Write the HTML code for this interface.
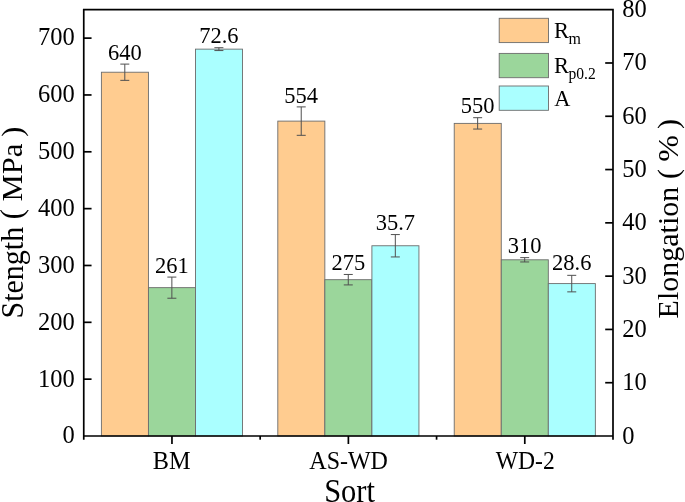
<!DOCTYPE html>
<html><head><meta charset="utf-8"><title>Chart</title>
<style>html,body{margin:0;padding:0;background:#fff;}body{width:685px;height:502px;overflow:hidden;font-family:"Liberation Serif",serif;}svg{display:block;will-change:transform;}</style>
</head><body>
<svg width="685" height="502" viewBox="0 0 685 502" font-family="Liberation Serif, serif" fill="#000">
<rect width="685" height="502" fill="#fff"/>
<rect x="101.39" y="72.22" width="47.04" height="363.78" fill="#FFCC90" stroke="#6c6c6c" stroke-width="0.9"/>
<rect x="148.44" y="287.65" width="47.04" height="148.35" fill="#9BD69B" stroke="#6c6c6c" stroke-width="0.9"/>
<rect x="195.48" y="49.13" width="47.04" height="386.87" fill="#AAFFFF" stroke="#6c6c6c" stroke-width="0.9"/>
<path d="M124.81 64.10V80.35M120.31 64.10H129.31M120.31 80.35H129.31" stroke="#505050" stroke-width="1.0" fill="none"/>
<text transform="translate(124.81 60.00) scale(1.0 1.03)" font-size="22.5" text-anchor="middle">640</text>
<path d="M171.86 277.08V298.22M167.36 277.08H176.36M167.36 298.22H176.36" stroke="#505050" stroke-width="1.0" fill="none"/>
<text transform="translate(171.86 273.00) scale(1.0 1.03)" font-size="22.5" text-anchor="middle">261</text>
<path d="M218.90 47.69V50.57M214.40 47.69H223.40M214.40 50.57H223.40" stroke="#505050" stroke-width="1.0" fill="none"/>
<text transform="translate(218.90 43.00) scale(1.0 1.03)" font-size="22.5" text-anchor="middle">72.6</text>
<rect x="277.81" y="121.11" width="47.04" height="314.89" fill="#FFCC90" stroke="#6c6c6c" stroke-width="0.9"/>
<rect x="324.85" y="279.69" width="47.04" height="156.31" fill="#9BD69B" stroke="#6c6c6c" stroke-width="0.9"/>
<rect x="371.90" y="245.76" width="47.04" height="190.24" fill="#AAFFFF" stroke="#6c6c6c" stroke-width="0.9"/>
<path d="M301.23 106.90V135.32M296.73 106.90H305.73M296.73 135.32H305.73" stroke="#505050" stroke-width="1.0" fill="none"/>
<text transform="translate(301.23 103.00) scale(1.0 1.03)" font-size="22.5" text-anchor="middle">554</text>
<path d="M348.27 274.46V284.92M343.77 274.46H352.77M343.77 284.92H352.77" stroke="#505050" stroke-width="1.0" fill="none"/>
<text transform="translate(348.27 270.00) scale(1.0 1.03)" font-size="22.5" text-anchor="middle">275</text>
<path d="M395.32 234.57V256.95M390.82 234.57H399.82M390.82 256.95H399.82" stroke="#505050" stroke-width="1.0" fill="none"/>
<text transform="translate(395.32 230.00) scale(1.0 1.03)" font-size="22.5" text-anchor="middle">35.7</text>
<rect x="454.22" y="123.38" width="47.04" height="312.62" fill="#FFCC90" stroke="#6c6c6c" stroke-width="0.9"/>
<rect x="501.27" y="259.80" width="47.04" height="176.20" fill="#9BD69B" stroke="#6c6c6c" stroke-width="0.9"/>
<rect x="548.31" y="283.60" width="47.04" height="152.40" fill="#AAFFFF" stroke="#6c6c6c" stroke-width="0.9"/>
<path d="M477.65 117.70V129.06M473.15 117.70H482.15M473.15 129.06H482.15" stroke="#505050" stroke-width="1.0" fill="none"/>
<text transform="translate(477.65 113.00) scale(1.0 1.03)" font-size="22.5" text-anchor="middle">550</text>
<path d="M524.69 257.64V261.96M520.19 257.64H529.19M520.19 261.96H529.19" stroke="#505050" stroke-width="1.0" fill="none"/>
<text transform="translate(524.69 253.00) scale(1.0 1.03)" font-size="22.5" text-anchor="middle">310</text>
<path d="M571.74 275.34V291.86M567.24 275.34H576.24M567.24 291.86H576.24" stroke="#505050" stroke-width="1.0" fill="none"/>
<text transform="translate(571.74 270.00) scale(1.0 1.03)" font-size="22.5" text-anchor="middle">28.6</text>
<g stroke="#000" stroke-width="1.7" fill="none" stroke-linecap="butt">
<path d="M83.75 439.7V9.7H613.0V439.7M82.9 436.0H613.85"/>
<path d="M83.75 379.16h7.8"/>
<path d="M83.75 322.32h7.8"/>
<path d="M83.75 265.48h7.8"/>
<path d="M83.75 208.64h7.8"/>
<path d="M83.75 151.80h7.8"/>
<path d="M83.75 94.96h7.8"/>
<path d="M83.75 38.12h7.8"/>
<path d="M613.0 382.71h-7.8"/>
<path d="M613.0 329.43h-7.8"/>
<path d="M613.0 276.14h-7.8"/>
<path d="M613.0 222.85h-7.8"/>
<path d="M613.0 169.56h-7.8"/>
<path d="M613.0 116.27h-7.8"/>
<path d="M613.0 62.99h-7.8"/>
<path d="M171.96 436.0v8.0"/>
<path d="M348.38 436.0v8.0"/>
<path d="M524.79 436.0v8.0"/>
<path d="M260.17 436.0v3.7"/>
<path d="M436.58 436.0v3.7"/>
</g>
<text transform="translate(74.75 443.35) scale(1.0 1.02)" font-size="24.5" text-anchor="end">0</text>
<text transform="translate(74.75 386.51) scale(1.0 1.02)" font-size="24.5" text-anchor="end">100</text>
<text transform="translate(74.75 329.67) scale(1.0 1.02)" font-size="24.5" text-anchor="end">200</text>
<text transform="translate(74.75 272.83) scale(1.0 1.02)" font-size="24.5" text-anchor="end">300</text>
<text transform="translate(74.75 215.99) scale(1.0 1.02)" font-size="24.5" text-anchor="end">400</text>
<text transform="translate(74.75 159.15) scale(1.0 1.02)" font-size="24.5" text-anchor="end">500</text>
<text transform="translate(74.75 102.31) scale(1.0 1.02)" font-size="24.5" text-anchor="end">600</text>
<text transform="translate(74.75 45.47) scale(1.0 1.02)" font-size="24.5" text-anchor="end">700</text>
<text transform="translate(622.20 443.50) scale(1.0 1.02)" font-size="24.5" text-anchor="start">0</text>
<text transform="translate(622.20 390.21) scale(1.0 1.02)" font-size="24.5" text-anchor="start">10</text>
<text transform="translate(622.20 336.93) scale(1.0 1.02)" font-size="24.5" text-anchor="start">20</text>
<text transform="translate(622.20 283.64) scale(1.0 1.02)" font-size="24.5" text-anchor="start">30</text>
<text transform="translate(622.20 230.35) scale(1.0 1.02)" font-size="24.5" text-anchor="start">40</text>
<text transform="translate(622.20 177.06) scale(1.0 1.02)" font-size="24.5" text-anchor="start">50</text>
<text transform="translate(622.20 123.77) scale(1.0 1.02)" font-size="24.5" text-anchor="start">60</text>
<text transform="translate(622.20 70.49) scale(1.0 1.02)" font-size="24.5" text-anchor="start">70</text>
<text transform="translate(622.20 17.20) scale(1.0 1.02)" font-size="24.5" text-anchor="start">80</text>
<text transform="translate(171.71 469.00) scale(1.0 1.04)" font-size="24.3" text-anchor="middle">BM</text>
<text transform="translate(348.62 469.00) scale(1.0 1.04)" font-size="24.0" text-anchor="middle">AS-WD</text>
<text transform="translate(525.29 469.00) scale(1.0 1.04)" font-size="23.6" text-anchor="middle">WD-2</text>
<text transform="translate(349.55 501.70) scale(1.0 1.1)" font-size="30.5" text-anchor="middle">Sort</text>
<text transform="translate(23.00 272.65) rotate(-90) scale(1.0 1.05)" font-size="30" text-anchor="middle">Stength</text>
<text transform="translate(22.00 214.10) rotate(-90)" font-size="30.5" text-anchor="middle">(</text>
<text transform="translate(22.00 172.60) rotate(-90) scale(1.02 1.0)" font-size="30" text-anchor="middle">MPa</text>
<text transform="translate(22.00 131.70) rotate(-90)" font-size="30" text-anchor="middle">)</text>
<text transform="translate(678.00 252.60) rotate(-90)" font-size="30" text-anchor="middle">Elongation</text>
<text transform="translate(678.00 173.90) rotate(-90)" font-size="30" text-anchor="middle">(</text>
<text transform="translate(678.00 148.50) rotate(-90) scale(1.0 0.95)" font-size="32" text-anchor="middle">%</text>
<text transform="translate(678.00 123.90) rotate(-90)" font-size="30" text-anchor="middle">)</text>
<rect x="499.2" y="18.3" width="49.3" height="24.3" fill="#FFCC90" stroke="#6c6c6c" stroke-width="0.9"/>
<rect x="499.2" y="53.4" width="49.3" height="24.3" fill="#9BD69B" stroke="#6c6c6c" stroke-width="0.9"/>
<rect x="499.2" y="86.0" width="49.3" height="24.3" fill="#AAFFFF" stroke="#6c6c6c" stroke-width="0.9"/>
<text transform="translate(554.10 37.85)" font-size="22.4" text-anchor="start">R</text>
<text transform="translate(568.50 43.90) scale(1.0 1.04)" font-size="16" text-anchor="start">m</text>
<text transform="translate(554.10 73.40)" font-size="22.4" text-anchor="start">R</text>
<text transform="translate(568.50 78.50) scale(1.0 1.06)" font-size="15.6" text-anchor="start">p0.2</text>
<text transform="translate(554.30 106.20)" font-size="22.4" text-anchor="start">A</text>
</svg>
</body></html>
